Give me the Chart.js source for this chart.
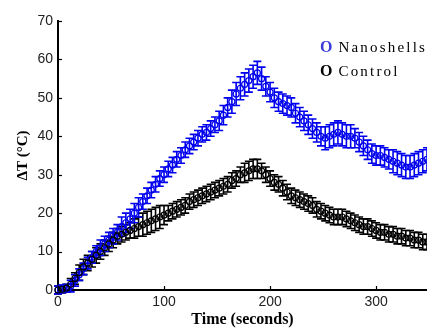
<!DOCTYPE html>
<html>
<head>
<meta charset="utf-8">
<script src="https://cdn.jsdelivr.net/npm/chart.js@4"></script>
<style>
  body { margin: 0; background: #fff; }
  #wrap { position: relative; width: 427px; height: 329px; }
  #legend { position: absolute; left: 320px; top: 35px; font-family: "Liberation Serif", serif; font-size: 15px; color: #000; line-height: 23px; letter-spacing: 2.2px; white-space: nowrap; }
  #legend b { font-size: 16px; margin-right: 6px; letter-spacing: 0; }
</style>
</head>
<body>
<div id="wrap">
  <canvas id="heatChart" width="427" height="329"></canvas>
  <div id="legend">
    <div><b style="color:#3a3ad8">O</b>Nanoshells</div>
    <div><b style="color:#000">O</b>Control</div>
  </div>
</div>
<script>
// time in seconds
const times = [
  0, 4, 8, 12, 16, 20, 24, 28, 32, 36,
  40, 44, 48, 52, 56, 60, 64, 68, 72, 76,
  80, 84, 88, 92, 96, 100, 104, 108, 112, 116,
  120, 124, 128, 132, 136, 140, 144, 148, 152, 156,
  160, 164, 168, 172, 176, 180, 184, 188, 192, 196,
  200, 204, 208, 212, 216, 220, 224, 228, 232, 236,
  240, 244, 248, 252, 256, 260, 264, 268, 272, 276,
  280, 284, 288, 292, 296, 300, 304, 308, 312, 316,
  320, 324, 328, 332, 336, 340, 344, 348
];

const nanoshells = [
  0, 0.3, 0.5, 1, 2.5, 4, 5.5, 7, 8.5, 10,
  11, 12, 13, 14, 15, 16.5, 17.5, 18.5, 20, 21.5,
  23, 24.5, 26, 27.5, 29, 30, 31.5, 32.5, 34, 35,
  36.5, 37.5, 38.5, 39.5, 40.5, 41, 42, 43, 44, 45.5,
  47.5, 49, 51, 52.5, 53.5, 54.5, 55.5, 56.5, 55, 53,
  51.5, 50, 49, 48.5, 48, 47.5, 46, 45, 44, 43,
  42, 41, 40, 39.5, 40, 40.5, 41, 40.5, 40, 40,
  39.5, 38.5, 37.5, 36.5, 35.5, 35, 35, 34.5, 34, 33.5,
  33, 32.5, 32, 32, 32.5, 33, 33.5, 34
];
const nanoshellsErr = [
  1, 1, 1, 1.5, 1.5, 1.5, 1.5, 1.5, 1.5, 1.5,
  2, 2, 2, 2, 2, 2.5, 2.5, 2.5, 2.5, 2.5,
  2, 2, 2, 2, 2, 2, 2, 2, 2, 2,
  2, 2, 2, 2, 2, 2, 2, 2, 2.5, 2.5,
  2.5, 3, 3, 3, 3, 3, 3, 3, 3, 2.5,
  2.5, 2.5, 2.5, 2.5, 2.5, 2.5, 2.5, 2.5, 2.5, 2.5,
  2.5, 2.5, 2.5, 3, 3, 3, 3, 3, 3, 3,
  2.5, 2.5, 2.5, 2.5, 2.5, 2.5, 2.5, 2.5, 2.5, 3,
  3, 3, 3, 3, 3, 3, 3, 3
];

const control = [
  0, 0.2, 0.5, 1.5, 3, 4.5, 6, 7, 8, 9,
  10, 11, 12, 13, 14, 14.5, 15, 15.5, 16, 16.5,
  17, 17.5, 18, 18.5, 19, 19.5, 20, 20.5, 21, 21.5,
  22, 23, 23.5, 24, 24.5, 25, 25.5, 26, 26.5, 27,
  27.5, 28.5, 29, 30, 30.5, 31, 31.5, 31.5, 31, 30,
  29, 28, 27.5, 26.5, 25.5, 24.5, 24, 23.5, 23, 22.5,
  22, 21, 20.5, 20, 19.5, 19, 19, 19, 18.5, 18,
  17.5, 17, 16.5, 16.5, 16, 15.5, 15, 15, 14.5, 14.5,
  14, 14, 13.5, 13.5, 13, 13, 12.5, 12.5
];
const controlErr = [
  1, 1, 1, 1.5, 1.5, 2, 2, 2, 2, 2,
  2, 2, 2, 2, 2, 2, 2, 2, 2.5, 2.5,
  3, 3, 3, 3, 3, 2.5, 2, 2, 2, 2,
  2, 2, 2, 2, 2, 2, 2, 2, 2, 2,
  2, 2, 2, 2, 2.5, 2.5, 2.5, 2.5, 2, 2,
  2, 2, 2, 2, 2, 2, 2, 2, 2, 2,
  2, 2, 2, 2, 2, 2, 2, 2, 2, 2,
  2, 2, 2, 2, 2, 2, 2, 2, 2, 2,
  2, 2, 2, 2, 2, 2, 2, 2
];

const xTicks = [0, 100, 200, 300];
const yTicks = [0, 10, 20, 30, 40, 50, 60, 70];

function toPoints(ys) {
  return times.map((t, i) => ({ x: t, y: ys[i] }));
}

// vertical error bars with caps, drawn under the markers
const errorBars = {
  id: 'errorBars',
  beforeDatasetsDraw(chart) {
    const ctx = chart.ctx;
    const xs = chart.scales.x, ys = chart.scales.y;
    const area = chart.chartArea;
    ctx.save();
    ctx.beginPath();
    ctx.rect(area.left - 5, 0, chart.width, area.bottom + 5);
    ctx.clip();
    chart.data.datasets.forEach(ds => {
      ctx.strokeStyle = ds.borderColor;
      ctx.lineWidth = 1.6;
      ds.data.forEach((p, i) => {
        const e = ds.errors[i];
        const px = xs.getPixelForValue(p.x);
        const top = ys.getPixelForValue(p.y + e);
        const bot = ys.getPixelForValue(p.y - e);
        ctx.beginPath();
        ctx.moveTo(px, top); ctx.lineTo(px, bot);
        ctx.moveTo(px - 4, top); ctx.lineTo(px + 4, top);
        ctx.moveTo(px - 4, bot); ctx.lineTo(px + 4, bot);
        ctx.stroke();
      });
    });
    ctx.restore();
  }
};

// small inward tick marks on both axes
const innerTicks = {
  id: 'innerTicks',
  afterDraw(chart) {
    const ctx = chart.ctx;
    const xs = chart.scales.x, ys = chart.scales.y;
    const area = chart.chartArea;
    ctx.save();
    ctx.strokeStyle = '#000';
    ctx.lineWidth = 1.2;
    xTicks.forEach(v => {
      const px = Math.round(xs.getPixelForValue(v)) + 0.5;
      ctx.beginPath();
      ctx.moveTo(px, area.bottom); ctx.lineTo(px, area.bottom - 4);
      ctx.stroke();
    });
    yTicks.forEach(v => {
      const py = Math.round(ys.getPixelForValue(v)) + 0.5;
      ctx.beginPath();
      ctx.moveTo(area.left, py); ctx.lineTo(area.left + 4, py);
      ctx.stroke();
    });
    ctx.restore();
  }
};

const ctx = document.getElementById('heatChart').getContext('2d');
const heatChart = new Chart(ctx, {
  type: 'line',
  data: {
    datasets: [
      {
        label: 'Control',
        data: toPoints(control),
        errors: controlErr,
        borderColor: '#000000',
        backgroundColor: 'rgba(0,0,0,0)',
        showLine: false,
        pointRadius: 3,
        pointBorderWidth: 1.2,
        pointStyle: 'circle'
      },
      {
        label: 'Nanoshells',
        data: toPoints(nanoshells),
        errors: nanoshellsErr,
        borderColor: '#0000ee',
        backgroundColor: 'rgba(0,0,0,0)',
        showLine: false,
        pointRadius: 3,
        pointBorderWidth: 1.2,
        pointStyle: 'circle'
      }
    ]
  },
  options: {
    responsive: false,
    animation: false,
    clip: false,
    layout: { autoPadding: false, padding: { top: 21, right: 0, left: 0, bottom: 0 } },
    plugins: { legend: { display: false }, tooltip: { enabled: false } },
    scales: {
      x: {
        type: 'linear',
        min: 0,
        max: 348,
        afterBuildTicks: s => { s.ticks = xTicks.map(v => ({ value: v })); },
        afterFit: s => { s.height = 39; s.paddingRight = 0; s.paddingLeft = 0; },
        grid: { display: false, drawTicks: false },
        border: { display: true, color: '#000', width: 2 },
        ticks: {
          color: '#222',
          padding: 4,
          maxRotation: 0,
          font: { family: 'Liberation Sans', size: 14 }
        },
        title: {
          display: true,
          text: 'Time (seconds)',
          color: '#000',
          padding: { top: 0, bottom: 0 },
          font: { family: 'Liberation Serif', size: 16, weight: 'bold' }
        }
      },
      y: {
        min: 0,
        max: 70,
        afterBuildTicks: s => { s.ticks = yTicks.map(v => ({ value: v })); },
        afterFit: s => { s.width = 58; },
        grid: { display: false, drawTicks: false },
        border: { display: true, color: '#000', width: 2 },
        ticks: {
          color: '#222',
          padding: 5,
          font: { family: 'Liberation Sans', size: 14 }
        },
        title: {
          display: true,
          text: 'ΔT (°C)',
          color: '#000',
          padding: { top: 14, bottom: 0 },
          font: { family: 'Liberation Serif', size: 15, weight: 'bold' }
        }
      }
    }
  },
  plugins: [errorBars, innerTicks]
});
</script>
</body>
</html>
